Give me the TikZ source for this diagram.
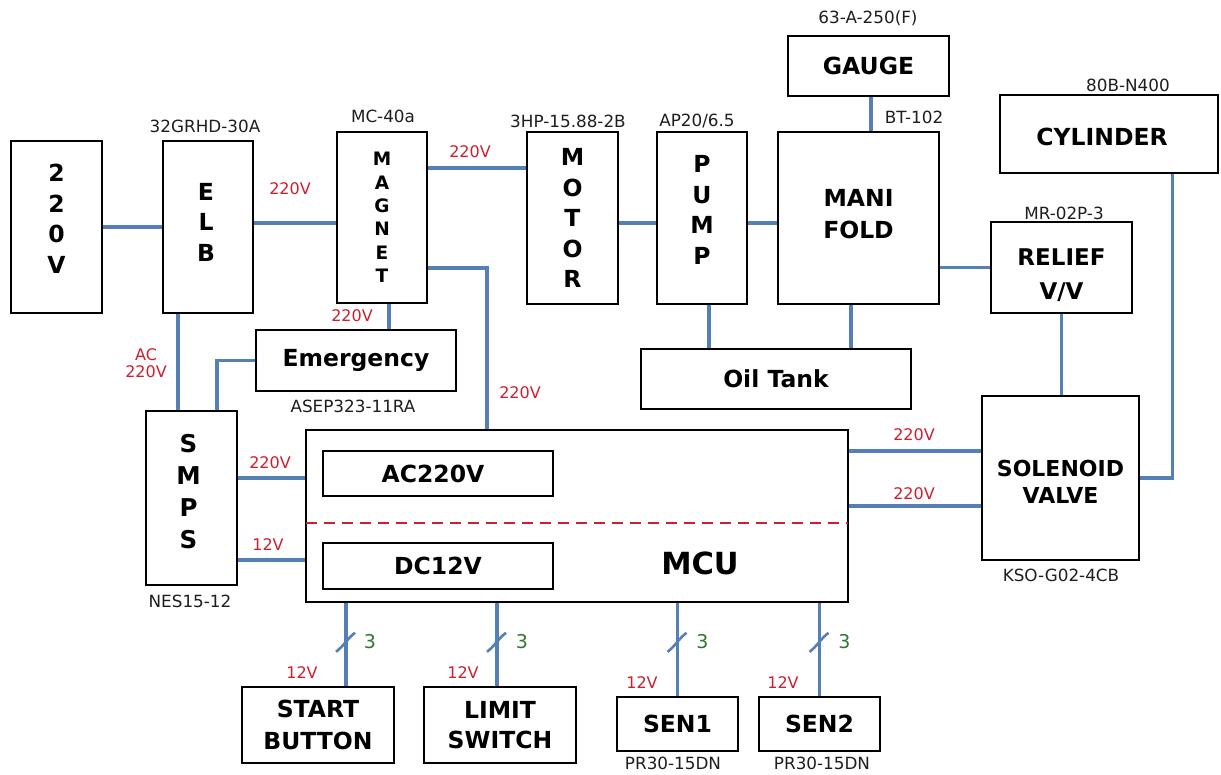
\documentclass[tikz,border=0pt]{standalone}
\usepackage{fontspec}
\setmainfont{DejaVu Sans}
\definecolor{wireblue}{RGB}{84,128,182}
\definecolor{lblred}{RGB}{204,32,48}
\definecolor{lblgreen}{RGB}{48,120,48}
\definecolor{lbldark}{RGB}{30,30,30}
\begin{document}
\begin{tikzpicture}[x=1pt,y=-1pt,
  box/.style={draw=black, line width=2.5pt, inner sep=0pt, outer sep=0pt, align=center,
    font=\fontsize{23.5}{30.5}\selectfont\bfseries, text=black},
  txt/.style={align=center, inner sep=0pt, text=black, font=\fontsize{23.5}{30.5}\selectfont\bfseries},
  wire/.style={draw=wireblue, line width=3.3pt, shorten <=1.2pt, shorten >=1.2pt},
  slash/.style={draw=wireblue, line width=2.6pt},
  part/.style={font=\fontsize{16.8}{18}\selectfont, text=lbldark, inner sep=0pt},
  volt/.style={font=\fontsize{16}{17}\selectfont, text=lblred, inner sep=0pt, align=center},
  cnt/.style={font=\fontsize{19}{20}\selectfont, text=lblgreen, inner sep=0pt},
  reddash/.style={draw=lblred, line width=2.6pt, dash pattern=on 11pt off 7pt}]
\fill[white] (0,0) rectangle (1221,775);
\useasboundingbox (0,0) rectangle (1221,775);

% boxes
\node[box, minimum width=91pt, minimum height=172pt,
  label={[txt, yshift=8pt]center:{2\\2\\0\\V}}] (v220) at (56.5,227) {};
\node[box, minimum width=90pt, minimum height=172pt,
  label={[txt, yshift=5pt, xshift=-2pt]center:{E\\L\\B}}] (elb) at (208,227) {};
\node[box, minimum width=90pt, minimum height=171pt, font=\fontsize{18.5}{23.3}\selectfont\bfseries] (mag) at (382,217.5) {M\\A\\G\\N\\E\\T};
\node[box, minimum width=91pt, minimum height=172pt] (motor) at (572.5,218) {M\\O\\T\\O\\R};
\node[box, minimum width=90pt, minimum height=172pt,
  label={[txt, yshift=8pt]center:{P\\U\\M\\P}}] (pump) at (702,218) {};
\node[box, minimum width=161pt, minimum height=172pt,
  label={[txt, font=\fontsize{23.5}{32}\selectfont\bfseries, yshift=4pt]center:{MANI\\FOLD}}] (mani) at (858.5,218) {};
\node[box, minimum width=161pt, minimum height=60pt] (gauge) at (868.5,66) {GAUGE};
\node[box, minimum width=218pt, minimum height=78pt,
  label={[txt, yshift=-3pt, xshift=-7pt]center:{CYLINDER}}] (cyl) at (1109,134) {};
\node[box, minimum width=141pt, minimum height=91pt,
  label={[txt, font=\fontsize{23}{34}\selectfont\bfseries, yshift=-8pt]center:{RELIEF\\V/V}}] (relief) at (1061.5,267.5) {};
\node[box, minimum width=200pt, minimum height=61pt] (emer) at (356,360.5) {Emergency};
\node[box, minimum width=270pt, minimum height=60pt] (oil) at (776,379) {Oil Tank};
\node[box, minimum width=91pt, minimum height=174pt,
  label={[txt, font=\fontsize{24.5}{32}\selectfont\bfseries, yshift=6pt, xshift=-3pt]center:{S\\M\\P\\S}}] (smps) at (191.5,498) {};
\node[box, minimum width=542pt, minimum height=172pt] (mcu) at (577,516) {};
\node[box, minimum width=230pt, minimum height=45pt,
  label={[txt, xshift=-5pt]center:{AC220V}}] (ac) at (438,473.5) {};
\node[box, minimum width=230pt, minimum height=46pt] (dc) at (438,566) {DC12V};
\node[inner sep=0pt, font=\fontsize{30.5}{32}\selectfont\bfseries] (mcut) at (700,563) {MCU};
\node[box, minimum width=157pt, minimum height=164pt,
  label={[txt, font=\fontsize{22}{27}\selectfont\bfseries, yshift=-4pt]center:{SOLENOID\\VALVE}}] (sol) at (1060.5,478) {};
\node[box, minimum width=152pt, minimum height=76pt, font=\fontsize{23.5}{32}\selectfont\bfseries] (start) at (318,725) {START\\BUTTON};
\node[box, minimum width=152pt, minimum height=76pt, font=\fontsize{23.5}{30}\selectfont\bfseries] (limit) at (500,725) {LIMIT\\SWITCH};
\node[box, minimum width=121pt, minimum height=54pt] (sen1) at (677.5,724) {SEN1};
\node[box, minimum width=121pt, minimum height=54pt] (sen2) at (819.5,724) {SEN2};

% dashed separator in MCU
\draw[reddash] ([yshift=-7pt]mcu.west) -- ([yshift=-7pt]mcu.east);

% connectors
\draw[wire] (v220.east) -- (elb.west);
\draw[wire] ([yshift=4pt]elb.east) -- ([yshift=4pt]elb.east -| mag.west);
\draw[wire] ([yshift=49.5pt]mag.east) -- ([yshift=49.5pt]mag.east -| motor.west);
\draw[wire] ([yshift=-50.5pt]mag.east) -| ([xshift=-90pt]mcu.north);
\draw[wire] ([xshift=7pt]mag.south) -- ([xshift=7pt]mag.south |- emer.north);
\draw[wire] ([xshift=-30pt]elb.south) -- ([xshift=-30pt]elb.south |- smps.north);
\draw[wire] (emer.west) -| ([xshift=25.5pt]smps.north);
\draw[wire] ([yshift=20pt]smps.east) -- ([yshift=20pt]smps.east -| mcu.west);
\draw[wire] ([yshift=-62pt]smps.east) -- ([yshift=-62pt]smps.east -| mcu.west);
\draw[wire] ([yshift=-5pt]motor.east) -- ([yshift=-5pt]motor.east -| pump.west);
\draw[wire] ([yshift=-5pt]pump.east) -- ([yshift=-5pt]pump.east -| mani.west);
\draw[wire] ([xshift=2.5pt]gauge.south) -- ([xshift=2.5pt]gauge.south |- mani.north);
\draw[wire] ([xshift=7pt]pump.south) -- ([xshift=7pt]pump.south |- oil.north);
\draw[wire] ([xshift=-7.5pt]mani.south) -- ([xshift=-7.5pt]mani.south |- oil.north);
\draw[wire] (relief.west -| mani.east) -- (relief.west);
\draw[wire] (relief.south) -- (relief.south |- sol.north);
\draw[wire] ([xshift=63.5pt]cyl.south) |- (sol.east);
\draw[wire] ([yshift=27pt]sol.west -| mcu.east) -- ([yshift=27pt]sol.west);
\draw[wire] ([yshift=-28pt]sol.west -| mcu.east) -- ([yshift=-28pt]sol.west);
\draw[wire] ([xshift=28pt]start.north |- mcu.south) -- coordinate[pos=0.48] (sl1) ([xshift=28pt]start.north);
\draw[wire] ([xshift=-3pt]limit.north |- mcu.south) -- coordinate[pos=0.48] (sl2) ([xshift=-3pt]limit.north);
\draw[wire] (sen1.north |- mcu.south) -- coordinate[pos=0.43] (sl3) (sen1.north);
\draw[wire] (sen2.north |- mcu.south) -- coordinate[pos=0.43] (sl4) (sen2.north);
\foreach \s in {sl1,sl2,sl3,sl4}{
  \draw[slash] ([shift={(-10pt,-9pt)}]\s) .. controls ([shift={(-2pt,-3pt)}]\s) and ([shift={(1pt,4pt)}]\s) .. ([shift={(9pt,10pt)}]\s);
}
\node[cnt] (c1) at ([shift={(24pt,1pt)}]sl1) {3};
\node[cnt] (c2) at ([shift={(25pt,1pt)}]sl2) {3};
\node[cnt] (c3) at ([shift={(25pt,1pt)}]sl3) {3};
\node[cnt] (c4) at ([shift={(25pt,1pt)}]sl4) {3};

% part labels
\node[part] (pgauge) at (868,18) {63-A-250(F)};
\node[part] (pelb) at (205,126) {32GRHD-30A};
\node[part] (pmag) at (383,116) {MC-40a};
\node[part] (pmotor) at (568,121) {3HP-15.88-2B};
\node[part] (ppump) at (697,121) {AP20/6.5};
\node[part] (pbt) at (914,117) {BT-102};
\node[part] (pcyl) at (1128,85) {80B-N400};
\node[part] (prel) at (1064,213) {MR-02P-3};
\node[part] (pemer) at (353,406) {ASEP323-11RA};
\node[part] (psmps) at (190,601) {NES15-12};
\node[part] (psol) at (1061,575) {KSO-G02-4CB};
\node[part] (psen1) at (673,763) {PR30-15DN};
\node[part] (psen2) at (822,763) {PR30-15DN};

% voltage labels
\node[volt] (va) at (290,189) {220V};
\node[volt] (vb) at (470,152) {220V};
\node[volt] (vc) at (352,316) {220V};
\node[volt] (vd) at (146,363.5) {AC\\220V};
\node[volt] (ve) at (520,393) {220V};
\node[volt] (vf) at (270,463) {220V};
\node[volt] (vg) at (268,545) {12V};
\node[volt] (vh) at (914,435) {220V};
\node[volt] (vi) at (914,494) {220V};
\node[volt] (vj) at (302,673) {12V};
\node[volt] (vk) at (463,673) {12V};
\node[volt] (vl) at (642,683) {12V};
\node[volt] (vm) at (783,683) {12V};
\end{tikzpicture}
\end{document}
